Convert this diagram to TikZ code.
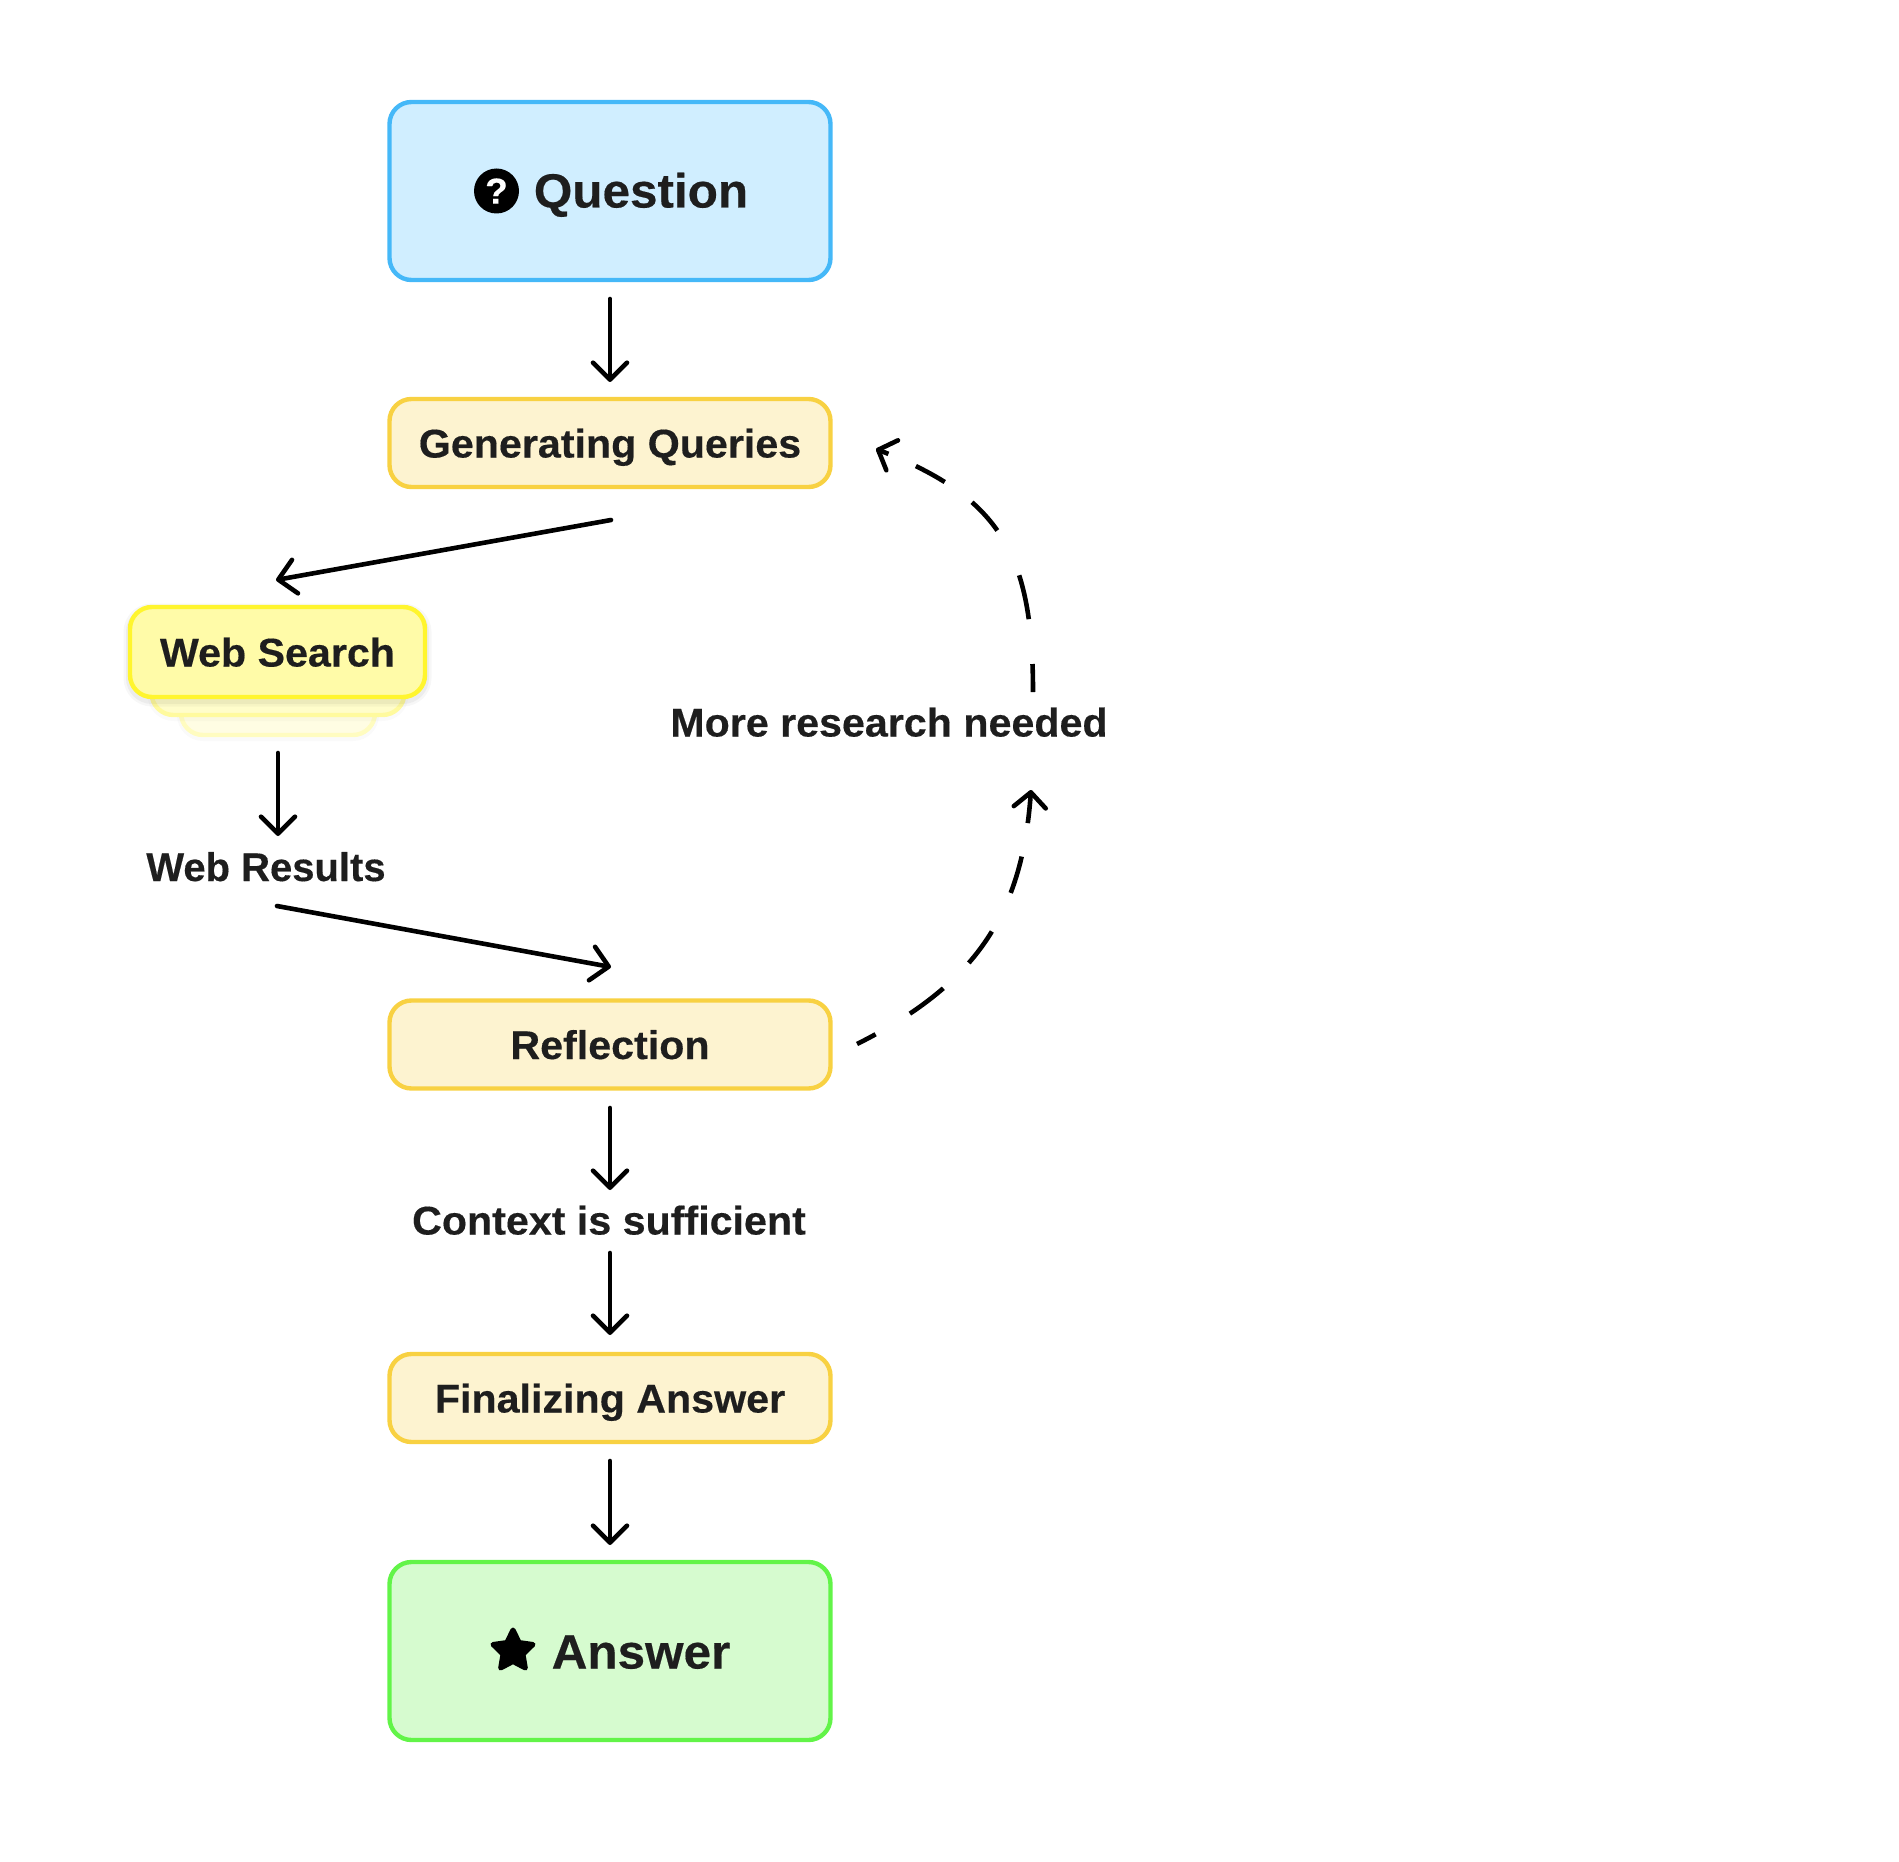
\documentclass[tikz,border=0pt]{standalone}
\usepackage{fontspec}
\setmainfont[FakeStretch=1.03,BoldFeatures={FakeBold=0.35}]{Liberation Sans}
\usetikzlibrary{arrows.meta,shapes.geometric,shadows,calc}
\definecolor{ink}{HTML}{1E1E1E}
\definecolor{qfill}{HTML}{D0EEFF}
\definecolor{qline}{HTML}{45B8F8}
\definecolor{pfill}{HTML}{FDF3D0}
\definecolor{pline}{HTML}{F8D142}
\definecolor{afill}{HTML}{D6FBCF}
\definecolor{aline}{HTML}{62F448}
\definecolor{wfill}{HTML}{FFFBA8}
\definecolor{wline}{HTML}{FFF52E}
\definecolor{wfilltwo}{HTML}{FFFDCB}
\definecolor{wlinetwo}{HTML}{FFFA9E}
\definecolor{wfillthree}{HTML}{FFFDE3}
\definecolor{wlinethree}{HTML}{FFFCC0}
\tikzset{
  boxbase/.style={rectangle,rounded corners=22pt,draw,line width=4.4pt,inner sep=0pt,outer sep=0pt,
    text=ink,font=\fontsize{40}{48}\bfseries\selectfont,text height=37pt,text depth=8pt},
  bigbox/.style={boxbase,minimum width=441pt,minimum height=178pt},
  procbox/.style={boxbase,fill=pfill,draw=pline,minimum width=441pt,minimum height=88pt},
  lbl/.style={inner sep=0pt,outer sep=0pt,text=ink,font=\fontsize{40}{48}\bfseries\selectfont,
    text height=37pt,text depth=8pt},
  biglbl/.style={inner sep=0pt,outer sep=0pt,text=ink,font=\fontsize{48}{58}\bfseries\selectfont,
    text height=43pt,text depth=8pt},
  flow/.style={line width=4.6pt,line cap=round,-{Straight Barb[length=17pt,width=34pt,round]}},
  loopflow/.style={line width=4.6pt,-{Straight Barb[length=15pt,width=32pt,round]}},
  softshadow/.style={
    preaction={draw=black,draw opacity=.03,line width=13pt,transform canvas={yshift=-3pt}},
    preaction={draw=black,draw opacity=.045,line width=8pt,transform canvas={yshift=-3pt}}},
  faintshadow/.style={
    preaction={draw=black,draw opacity=.018,line width=8pt,transform canvas={yshift=-2pt}}}
}
\begin{document}
\begin{tikzpicture}[x=1pt,y=-1pt]
\useasboundingbox (0,0) rectangle (1899,1862);
% main column
\node[bigbox,fill=qfill,draw=qline] (q) at (610,191) {};
\node[procbox] (gq) at (610,443) {Generating Queries};
\node[procbox] (ref) at (610,1044.5) {Reflection};
\node[procbox] (fa) at (610,1398) {Finalizing Answer};
\node[bigbox,fill=afill,draw=aline] (a) at (610,1651) {};
% question and answer contents
\node[circle,fill=black,minimum size=45pt,inner sep=0pt,text=white,font=\fontsize{36}{40}\bfseries\selectfont] (qicon) at (496.5,191) {?};
\node[biglbl] (qtext) at (641,190) {Question};
\node[star,star points=5,star point ratio=2.0,fill=black,draw=black,line width=5pt,line join=round,minimum size=42pt,inner sep=0pt] (aicon) at (513,1651) {};
\node[biglbl] (atext) at (641,1651) {Answer};
% web search stack
\node[boxbase,fill=wfillthree,draw=wlinethree,minimum width=194pt,minimum height=88pt,faintshadow] (ws3) at (278,691) {};
\node[boxbase,fill=wfilltwo,draw=wlinetwo,minimum width=253pt,minimum height=88pt,faintshadow] (ws2) at (278,671) {};
\node[boxbase,fill=wfill,draw=wline,minimum width=295pt,minimum height=90pt,softshadow] (ws) at (277.5,652) {Web Search};
% labels
\node[lbl,minimum height=50pt] (wr) at (266,866.5) {\addfontfeature{FakeStretch=1.0}Web Results};
\node[lbl] (ctx) at (609,1220) {Context is sufficient};
\node[lbl] (more) at (889,722) {More research needed};
% free ends
\coordinate (gqOut) at (611,520);
\coordinate (wsIn) at (276,580);
\coordinate (wrOut) at (277,906);
\coordinate (refIn) at (611,967);
\coordinate (moreUp) at (1033,692);
\coordinate (gqBack) at (876,449);
\coordinate (refOut) at (857,1044);
\coordinate (moreIn) at (1031,790);
\coordinate (wsOut) at (278,753);
\coordinate (wrIn) at (278,836);
\coordinate (refDown) at (610,1108);
\coordinate (ctxIn) at (610,1190);
\coordinate (ctxOut) at (610,1253);
\coordinate (faIn) at (610,1335);
% connectors
\draw[flow,shorten <=19pt,shorten >=17pt] (q.south) -- (gq.north);
\draw[flow] (gqOut) -- (wsIn);
\draw[flow] (wsOut) -- (wrIn);
\draw[flow] (wrOut) -- (refIn);
\draw[flow] (refDown) -- (ctxIn);
\draw[flow] (ctxOut) -- (faIn);
\draw[flow,shorten <=19pt,shorten >=17pt] (fa.south) -- (a.north);
\draw[loopflow,dash pattern=on 28pt off 45pt on 45pt off 50pt on 38pt off 34pt on 33pt off 30pt on 80pt]
  (moreUp) .. controls (1033,556) and (1002,498) .. (gqBack);
\draw[loopflow,dash pattern=on 21pt off 40pt on 42pt off 36pt on 39pt off 43pt on 38pt off 34pt on 80pt]
  (refOut) .. controls (975,985) and (1022,915) .. (moreIn);
\end{tikzpicture}
\end{document}
